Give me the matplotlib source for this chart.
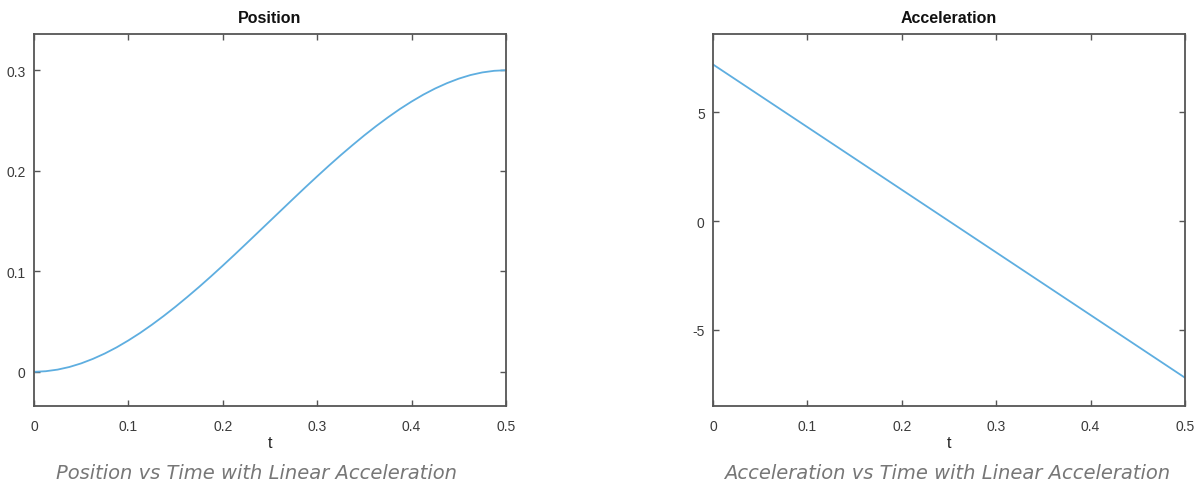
import matplotlib
matplotlib.use('Agg')
import matplotlib.pyplot as plt

# --- Данные ---
t_pos = [0, 0.0125, 0.025, 0.0375, 0.05, 0.0625, 0.075, 0.0875, 0.1, 0.1125,
         0.125, 0.1375, 0.15, 0.1625, 0.175, 0.1875, 0.2, 0.2125, 0.225,
         0.2375, 0.25, 0.2625, 0.275, 0.2875, 0.3, 0.3125, 0.325, 0.3375,
         0.35, 0.3625, 0.375, 0.3875, 0.4, 0.4125, 0.425, 0.4375, 0.45,
         0.4625, 0.475, 0.4875, 0.5]
position = [0, 0.0006, 0.0022, 0.0048, 0.0084, 0.0129, 0.0182, 0.0243, 0.0312,
            0.0387, 0.0469, 0.0556, 0.0648, 0.0745, 0.0845, 0.0949, 0.1056,
            0.1165, 0.1276, 0.1388, 0.15, 0.1612, 0.1724, 0.1835, 0.1944,
            0.2051, 0.2155, 0.2255, 0.2352, 0.2444, 0.2531, 0.2613, 0.2688,
            0.2757, 0.2818, 0.2871, 0.2916, 0.2952, 0.2978, 0.2994, 0.3]

t_acc = [0, 0.5]
acceleration = [7.2, -7.2]

x_ticks = [0, 0.1, 0.2, 0.3, 0.4, 0.5]
pos_ticks = [0, 0.1, 0.2, 0.3]
acc_ticks = [-5, 0, 5]

captions = ['Position vs Time with Linear Acceleration',
            'Acceleration vs Time with Linear Acceleration']

plt.rcParams['font.family'] = ['Liberation Sans', 'DejaVu Sans']
line_color = '#5eaee0'
axis_color = '#555555'

fig = plt.figure(figsize=(12, 4.85), dpi=100)
ax1 = fig.add_axes([0.0283, 0.1608, 0.3933, 0.767])
ax2 = fig.add_axes([0.5942, 0.1608, 0.3933, 0.767])


def style(ax, yticks, ylim, title):
    ax.set_xlim(0, 0.5)
    ax.set_ylim(*ylim)
    ax.set_xticks(x_ticks)
    ax.set_xticklabels(['0', '0.1', '0.2', '0.3', '0.4', '0.5'])
    ax.set_yticks(yticks)
    ax.set_yticklabels([str(v) for v in yticks])
    ax.tick_params(direction='in', top=True, right=True, length=4,
                   width=1, colors=axis_color, labelsize=10,
                   labelcolor='#3a3a3a')
    ax.tick_params(axis='x', pad=9)
    ax.tick_params(axis='y', pad=6)
    for s in ax.spines.values():
        s.set_color(axis_color)
        s.set_linewidth(1.3)
    ax.set_title(title, fontsize=11.5, fontweight='bold', pad=9, color='#111111')
    ax.set_xlabel('t', fontsize=11.5, labelpad=2, color='#222222')


ax1.plot(t_pos, position, color=line_color, lw=1.3)
style(ax1, pos_ticks, (-0.034, 0.336), 'Position')

ax2.plot(t_acc, acceleration, color=line_color, lw=1.3)
style(ax2, acc_ticks, (-8.5, 8.6), 'Acceleration')

# Подписи под графиками
fig.text(0.2138, 0.024, captions[0], ha='center', va='center', fontsize=14,
         style='italic', color='#777777', family=['DejaVu Sans'])
fig.text(0.789, 0.024, captions[1], ha='center', va='center', fontsize=14,
         style='italic', color='#777777', family=['DejaVu Sans'])

fig.savefig('out.png', dpi=100)
plt.close(fig)
